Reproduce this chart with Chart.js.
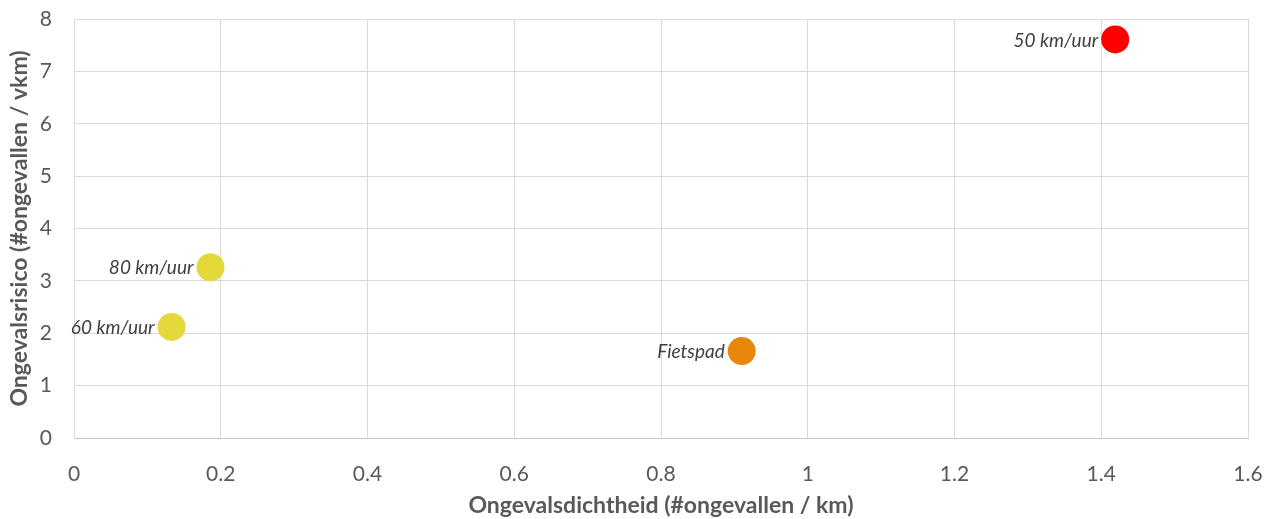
<!DOCTYPE html>
<html>
<head>
<meta charset="utf-8">
<script src="https://cdn.jsdelivr.net/npm/chart.js@4/dist/chart.umd.min.js"></script>
<style>
  html, body { margin: 0; padding: 0; background: #fff; }
  #wrap { width: 1279px; height: 519px; position: relative; }
</style>
</head>
<body>
<div id="wrap"><canvas id="scatterChart"></canvas></div>
<script>
// Ongevalsdichtheid (x) vs Ongevalsrisico (y)
const roadTypes = ['50 km/uur', '80 km/uur', '60 km/uur', 'Fietspad'];
const densityValues = [1.419, 0.186, 0.133, 0.910];
const riskValues = [7.61, 3.26, 2.12, 1.66];
const pointColors = ['#FF0000', '#E5D83B', '#E5D83B', '#E9870A'];

const xTitle = 'Ongevalsdichtheid (#ongevallen / km)';
const yTitle = 'Ongevalsrisico (#ongevallen / vkm)';

const fontFamily = 'Lato, "Open Sans", sans-serif';

// labels left of each point
const pointLabels = {
    id: 'pointLabels',
    afterDatasetsDraw(chart) {
        const ctx = chart.ctx;
        const meta = chart.getDatasetMeta(0);
        ctx.save();
        ctx.font = 'italic 19px ' + fontFamily;
        ctx.fillStyle = '#404040';
        ctx.textAlign = 'right';
        ctx.textBaseline = 'middle';
        meta.data.forEach((pt, i) => {
            ctx.fillText(roadTypes[i], pt.x - 17, pt.y + 1);
        });
        ctx.restore();
    }
};

const points = densityValues.map((x, i) => ({ x: x, y: riskValues[i] }));

new Chart(document.getElementById('scatterChart'), {
    type: 'scatter',
    data: {
        datasets: [{
            data: points,
            backgroundColor: pointColors,
            borderWidth: 0,
            pointRadius: 14,
            pointHoverRadius: 14
        }]
    },
    options: {
        responsive: true,
        maintainAspectRatio: false,
        animation: false,
        layout: { autoPadding: false, padding: { top: 19, right: 31, left: 0, bottom: 0 } },
        plugins: {
            legend: { display: false },
            tooltip: { enabled: false }
        },
        scales: {
            x: {
                type: 'linear',
                min: 0,
                max: 1.6,
                ticks: {
                    stepSize: 0.2,
                    color: '#595959',
                    font: { family: fontFamily, size: 21 },
                    callback: (v) => Number(v.toFixed(1)).toString()
                },
                // invisible tick marks push the labels away from the axis
                grid: { color: '#d9d9d9', tickLength: 21, tickColor: 'rgba(0,0,0,0)' },
                border: { color: '#c6c6c6' },
                title: {
                    display: true,
                    text: xTitle,
                    color: '#595959',
                    font: { family: fontFamily, size: 23, weight: 'bold' },
                    padding: { top: 4, bottom: 0 }
                },
                afterFit: (scale) => { scale.height = 81; }
            },
            y: {
                min: 0,
                max: 8,
                ticks: {
                    stepSize: 1,
                    color: '#595959',
                    font: { family: fontFamily, size: 21 }
                },
                grid: { color: '#d9d9d9', tickLength: 19, tickColor: 'rgba(0,0,0,0)' },
                border: { color: '#d9d9d9' },
                title: {
                    display: true,
                    text: yTitle,
                    color: '#595959',
                    font: { family: fontFamily, size: 23, weight: 'bold' },
                    padding: { top: 6, bottom: 0 }
                },
                afterFit: (scale) => { scale.width = 74; }
            }
        }
    },
    plugins: [pointLabels]
});
</script>
</body>
</html>
